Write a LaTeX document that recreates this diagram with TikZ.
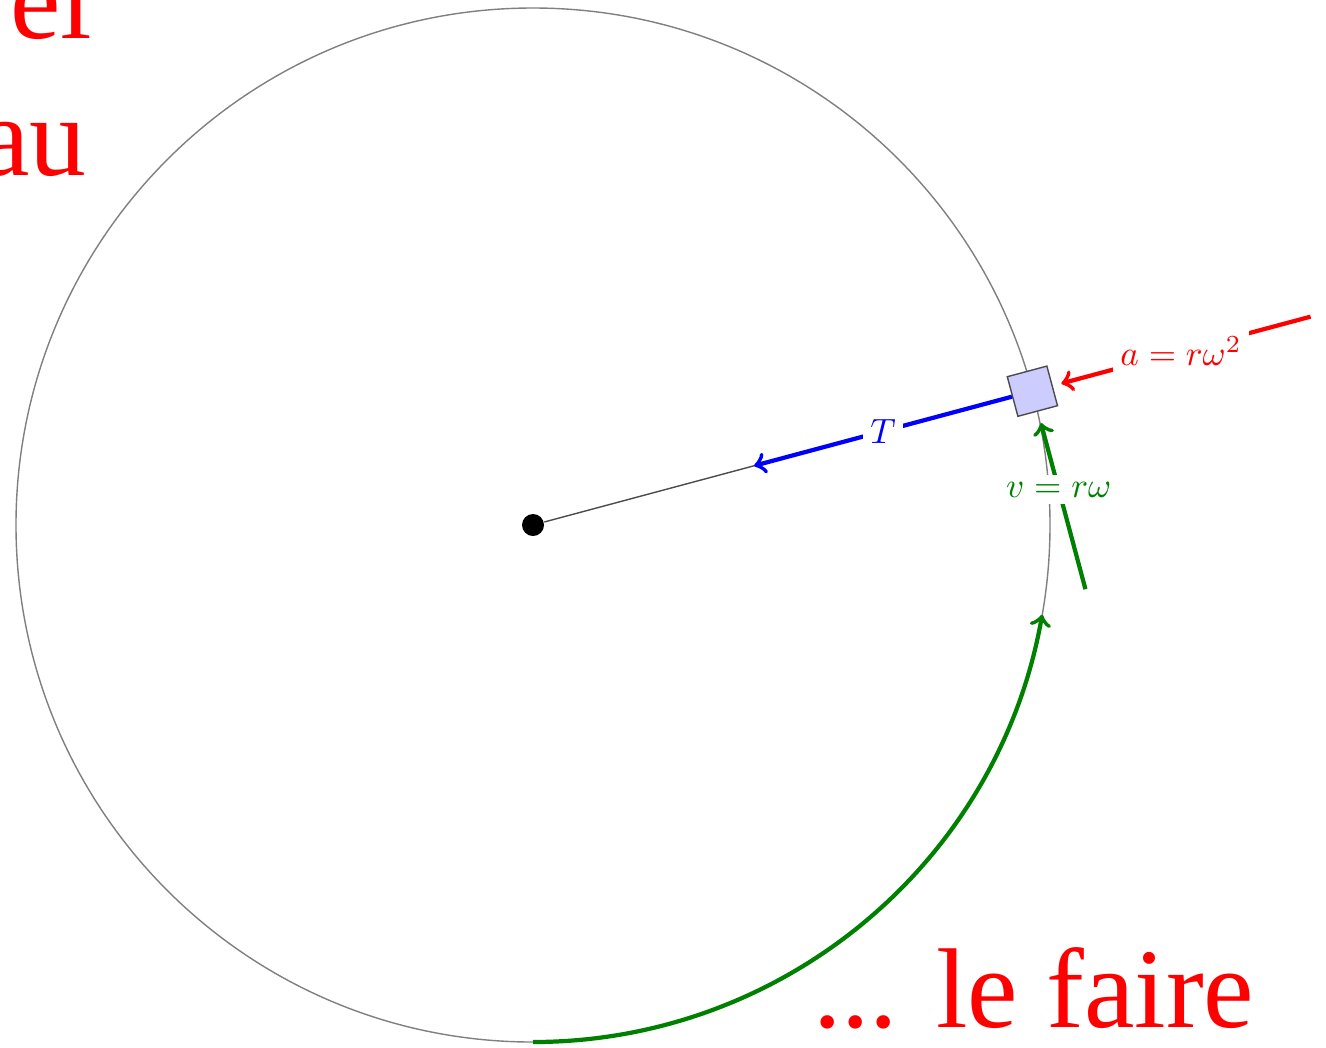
\documentclass[tikz,border=0pt]{standalone}
\usepackage{fontspec}
\newfontfamily\slidefont{Liberation Serif}
\usetikzlibrary{calc}

\begin{document}
\begin{tikzpicture}[
  dot/.style={circle, fill=black, minimum size=2.2mm, inner sep=0pt},
  mass/.style={draw=black!70, fill=blue!20, minimum size=4.1mm, inner sep=0pt, rotate=15},
  orbit/.style={draw=gray, line width=0.4pt},
  string/.style={draw=black!70, line width=0.4pt},
  pull/.style={->, very thick, draw=blue},
  accel/.style={->, very thick, draw=red},
  vel/.style={->, very thick, draw=green!50!black},
  lbl/.style={fill=white, inner sep=2pt},
  slide/.style={font=\slidefont\fontsize{32.3}{39}\selectfont, text=red, inner sep=0pt}
]
\useasboundingbox (-5.33,-5.22) rectangle (7.93,5.25);

\node[dot] (o) at (0,0) {};
\draw[orbit] (o.center) circle (5.17);
\draw[vel] (-90:5.17) arc (-90:-10:5.17);

\node[mass] (m) at (15:5.17) {};
\draw[string] (o) -- (m);

\draw[pull] (m) -- node[lbl, text=blue] {$T$} ($(m)+(195:2.88)$);
\draw[accel] ($(m)+(15:2.88)$) -- node[lbl, text=red, pos=0.52] {$a=r\omega^2$} ($(m)+(15:0.30)$);
\draw[vel] ($(m)+(-75:2.05)$) -- node[lbl, text=green!50!black, pos=0.6] {$v=r\omega$} ($(m)+(-75:0.33)$);

% bits of the slide text
\node[slide, anchor=base east] (el) at (-4.40,4.87) {el};
\node[slide, anchor=base east] (au) at (-4.46,3.50) {au};
\node[slide, anchor=base east] (faire) at (7.22,-5.02) {... le faire};
\end{tikzpicture}
\end{document}
